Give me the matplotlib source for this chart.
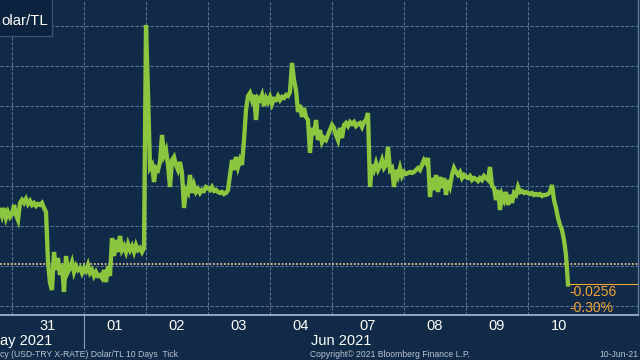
import matplotlib
matplotlib.use('Agg')
import matplotlib.pyplot as plt
import matplotlib.transforms as mtransforms
from matplotlib.lines import Line2D
from matplotlib.patches import Rectangle
import numpy as np

fri_28 = [8.6200, 8.6125, 8.6225, 8.6100, 8.6175, 8.6113]
mon_31 = [8.6150, 8.6263, 8.6138, 8.6075, 8.6288, 8.6325, 8.6288, 8.6338, 8.6275, 8.6313,
          8.6263, 8.6288, 8.6250, 8.6275, 8.6263, 8.6288, 8.6225, 8.6175, 8.5550, 8.5288,
          8.5200, 8.5675, 8.5450, 8.5600, 8.5388, 8.5513, 8.5175, 8.5625, 8.5425, 8.5475,
          8.5550, 8.5425, 8.5500, 8.5450, 8.5475, 8.5413]
tue_01 = [8.5475, 8.5438, 8.5513, 8.5413, 8.5450, 8.5375, 8.5425, 8.5375, 8.5388, 8.5350,
          8.5450, 8.5300, 8.5500, 8.5375, 8.5850, 8.5625, 8.5825, 8.5675, 8.5875, 8.5700,
          8.5750, 8.5675, 8.5775, 8.5700, 8.5750, 8.5675, 8.5763, 8.5700, 8.5725, 8.5675,
          8.5725]
wed_02 = [8.8513, 8.7663, 8.6725, 8.6763, 8.6550, 8.6725, 8.6700, 8.6800, 8.7138, 8.6888,
          8.6950, 8.6763, 8.6488, 8.6825, 8.6863, 8.6763, 8.6700, 8.6800, 8.6663, 8.6225,
          8.6450, 8.6413, 8.6638, 8.6413, 8.6513, 8.6425, 8.6463, 8.6413, 8.6450, 8.6438,
          8.6488]
thu_03 = [8.6475, 8.6450, 8.6488, 8.6438, 8.6450, 8.6425, 8.6413, 8.6425, 8.6400, 8.6413,
          8.6450, 8.6638, 8.6825, 8.6700, 8.6863, 8.6738, 8.6825, 8.6763, 8.7075, 8.7450,
          8.7625, 8.7663, 8.7575, 8.7638, 8.7325, 8.7600, 8.7575, 8.7638, 8.7500, 8.7600,
          8.7550]
fri_04 = [8.7613, 8.7525, 8.7588, 8.7575, 8.7625, 8.7575, 8.7613, 8.7600, 8.7638, 8.7625,
          8.7675, 8.8038, 8.7825, 8.7700, 8.7425, 8.7513, 8.7363, 8.7475, 8.7363, 8.7325,
          8.6913, 8.7225, 8.7138, 8.7325, 8.7075, 8.7200, 8.7050, 8.7100, 8.7075, 8.7138,
          8.7200]
mon_07 = [8.7263, 8.7225, 8.7138, 8.7075, 8.7225, 8.7100, 8.7263, 8.7288, 8.7250, 8.7300,
          8.7275, 8.7300, 8.7250, 8.7275, 8.7288, 8.7238, 8.7300, 8.7325, 8.7413, 8.6488,
          8.6763, 8.6700, 8.6788, 8.6700, 8.6750, 8.6825, 8.6725, 8.6763, 8.6988, 8.6700,
          8.6725, 8.6488, 8.6700, 8.6625, 8.6725, 8.6625]
tue_08 = [8.6675, 8.6650, 8.6663, 8.6675, 8.6663, 8.6675, 8.6700, 8.6725, 8.6700, 8.6763,
          8.6825, 8.6788, 8.6850, 8.6363, 8.6600, 8.6450, 8.6638, 8.6425, 8.6613, 8.6475,
          8.6600, 8.6388, 8.6575, 8.6500, 8.6638, 8.6725, 8.6675, 8.6638, 8.6675, 8.6600,
          8.6638]
wed_09 = [8.6613, 8.6600, 8.6625, 8.6575, 8.6600, 8.6588, 8.6563, 8.6600, 8.6575, 8.6625,
          8.6600, 8.6575, 8.6738, 8.6500, 8.6475, 8.6325, 8.6450, 8.6200, 8.6388, 8.6325,
          8.6425, 8.6263, 8.6388, 8.6288, 8.6413, 8.6388, 8.6488, 8.6425, 8.6438, 8.6413,
          8.6425]
thu_10 = [8.6413, 8.6400, 8.6413, 8.6388, 8.6400, 8.6388, 8.6400, 8.6375, 8.6388, 8.6388,
          8.6400, 8.6425, 8.6513, 8.6325, 8.6225, 8.6100, 8.6013, 8.5950, 8.5825, 8.5638,
          8.5269]

prev_close = 8.5525
day_labels = ['31', '01', '02', '03', '04', '07', '08', '09', '10']
day_lengths = [36, 31, 31, 31, 31, 36, 31, 31, 31]   # samples per session (Mondays include Sunday evening)
per_day = 31

prices = np.array(fri_28 + mon_31 + tue_01 + wed_02 + thu_03 + fri_04 +
                  mon_07 + tue_08 + wed_09 + thu_10)
t = (np.arange(len(prices)) - len(fri_28)) / per_day
day_starts = np.concatenate([[0], np.cumsum(day_lengths)]) / per_day
day_mids = (day_starts[:-1] + day_starts[1:]) / 2

bg = '#102a47'
grid_c = '#55719a'
green = '#8cc63f'
orange = '#f0a535'
font = 'Liberation Sans'

fig = plt.figure(figsize=(6.4, 3.6), dpi=100, facecolor=bg)
ax = fig.add_axes([0, 45 / 360, 638 / 640, 315 / 360], facecolor=bg)

ax.set_xlim(-len(fri_28) / per_day, 626 / 62)
ax.set_ylim(8.48875, 8.8825)

ax.set_xticks(day_starts[:-1])
ax.set_yticks(np.arange(8.50, 8.86, 0.05))
ax.tick_params(length=0, labelbottom=False, labelleft=False)
ax.grid(True, color=grid_c, linestyle=(0, (3, 1.5)), linewidth=0.8)

for s in ['left', 'top']:
    ax.spines[s].set_visible(False)
ax.spines['bottom'].set_color('#9db2c8')
ax.spines['bottom'].set_linewidth(1.3)
ax.spines['right'].set_color('#5f7b9c')
ax.spines['right'].set_linewidth(1.0)

# previous close
ax.axhline(prev_close, color='#d8c28e', linestyle=(0, (1, 1)), linewidth=1.3, zorder=2)

ax.plot(t, prices, color=green, linewidth=3.1, solid_joinstyle='miter', zorder=3)

# last price marker line + change labels
last = prices[-1]
chg = last - prev_close
ax.plot([t[-1], 640], [last, last], color=orange, linewidth=0.8, zorder=2)
tr = mtransforms.blended_transform_factory(ax.transData, fig.transFigure)
ax.text(t[-1] + 0.03, 1 - 292.5 / 360, '{:.4f}'.format(chg), transform=tr, color=orange,
        fontsize=10, family=font, va='center', ha='left', clip_on=False)
ax.text(t[-1] + 0.03, 1 - 308 / 360, '{:.2f}%'.format(chg / prev_close * 100), transform=tr,
        color=orange, fontsize=10, family=font, va='center', ha='left', clip_on=False)

# day labels
for x, lab in zip(day_mids, day_labels):
    ax.text(x, 1 - 325.5 / 360, lab, transform=tr, color='white', fontsize=10.5,
            family=font, ha='center', va='center', clip_on=False)

# month separator
fig.add_artist(Line2D([84 / 640, 84 / 640], [1 - 316 / 360, 1 - 348 / 360],
                      color='#8aa0b8', linewidth=0.8))

# texts as they appear cropped at the picture's left edge
fig.text(0, 1 - 341 / 360, 'ay 2021', color='white', fontsize=10.5,
         family=font, va='center', ha='left')
fig.text(311 / 640, 1 - 341 / 360, 'Jun 2021', color='white', fontsize=10.5,
         family=font, va='center', ha='left')

foot = '#b9c4d0'
fig.text(0, 1 - 354.5 / 360, 'cy (USD-TRY X-RATE) Dolar/TL 10 Days  Tick',
         color=foot, fontsize=6.2, family=font, va='center', ha='left')
fig.text(310 / 640, 1 - 354.5 / 360, 'Copyright\u00a9 2021 Bloomberg Finance L.P.',
         color=foot, fontsize=6.2, family=font, va='center', ha='left')
fig.text(638 / 640, 1 - 354.5 / 360, '10-Jun-21', color=foot, fontsize=6.2,
         family=font, va='center', ha='right')

# title box
fig.add_artist(Rectangle((-0.02, 1 - 36 / 360), 0.02 + 52 / 640, 36 / 360 + 0.02,
                         transform=fig.transFigure, facecolor='#0c2340',
                         edgecolor='#36527a', linewidth=1.0, zorder=5))
fig.text(1 / 640, 1 - 25 / 360, 'olar/TL', color='white', fontsize=10.8,
         family=font, va='baseline', ha='left', zorder=6)

fig.savefig('out.png', dpi=100, facecolor=bg)
